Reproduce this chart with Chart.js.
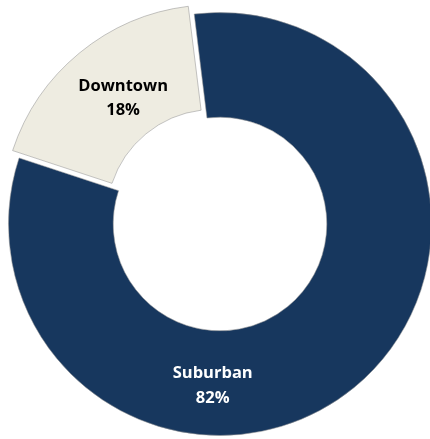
<!DOCTYPE html>
<html>
<head>
<meta charset="utf-8">
<script src="https://cdn.jsdelivr.net/npm/chart.js@4/dist/chart.umd.min.js"></script>
<style>
  html, body { margin:0; padding:0; width:430px; height:439px; overflow:hidden; background:#ffffff; }
  #wrap { position:absolute; left:-10px; top:-6px; width:460px; height:460px; }
</style>
</head>
<body>
<div id="wrap"><canvas id="c" width="460" height="460"></canvas></div>
<script>
const categories = ["Suburban", "Downtown"];
const values = [82, 18];
const percentLabels = ["82%", "18%"];

const sliceColors = ["#17375E", "#EEECE1"];
const labelColors = ["#FFFFFF", "#000000"];
const sliceOffsets = [0, 36];
const labelAngles = [182.6, -37.1];     // degrees, clockwise from top
const labelRingPos = [0.511, 0.415];    // 0 = inner edge, 1 = outer edge

const labelPlugin = {
  id: 'sliceLabels',
  afterDatasetsDraw(chart) {
    const ctx = chart.ctx;
    const meta = chart.getDatasetMeta(0);
    meta.data.forEach((arc, i) => {
      const p = arc.getProps(['x','y','startAngle','endAngle','innerRadius','outerRadius','circumference'], true);
      const mid = (p.startAngle + p.endAngle) / 2;
      const r = p.innerRadius + (p.outerRadius - p.innerRadius) * labelRingPos[i];
      const off = sliceOffsets[i] / 4;
      const fix = 1 - Math.sin(Math.min(Math.PI, p.circumference || 0));
      const shift = off * (1 + fix);
      const ang = (labelAngles[i] - 90) * Math.PI / 180;
      const x = p.x + Math.cos(ang) * r + Math.cos(mid) * shift;
      const y = p.y + Math.sin(ang) * r + Math.sin(mid) * shift;
      ctx.save();
      ctx.fillStyle = labelColors[i];
      ctx.font = "bold 16.5px 'Open Sans'";
      ctx.textAlign = 'center';
      ctx.textBaseline = 'alphabetic';
      ctx.fillText(categories[i], x, y - 5.9);
      ctx.fillText(percentLabels[i], x, y + 18.5);
      ctx.restore();
    });
  }
};

new Chart(document.getElementById('c'), {
  type: 'doughnut',
  data: {
    labels: categories,
    datasets: [{
      data: values,
      backgroundColor: sliceColors,
      borderColor: 'rgba(150,150,150,0.55)',
      borderWidth: 1,
      offset: sliceOffsets,
      hoverOffset: 0
    }]
  },
  options: {
    responsive: false,
    devicePixelRatio: 1,
    animation: false,
    events: [],
    rotation: -7,
    cutout: '50.5%',
    layout: { padding: 0 },
    plugins: { legend: { display: false }, tooltip: { enabled: false } }
  },
  plugins: [labelPlugin]
});
</script>
</body>
</html>
